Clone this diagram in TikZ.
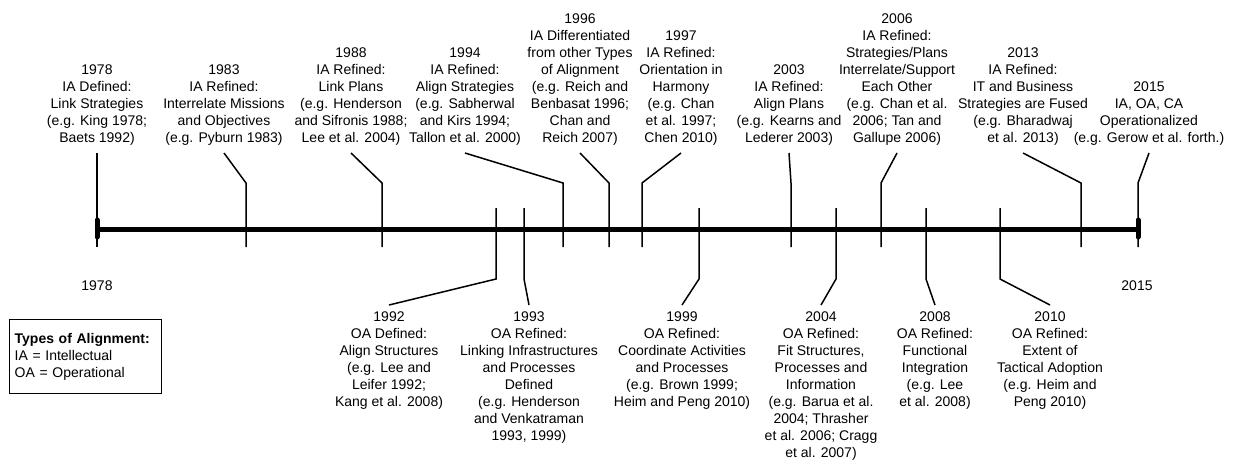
\documentclass[tikz,border=0pt]{standalone}
\usepackage{fontspec}
\setmainfont{Liberation Sans}
\begin{document}
\begin{tikzpicture}[x=1pt,y=-1pt,
  lab/.style={font=\fontsize{14}{17}\selectfont, align=center, inner xsep=0pt},
  ia/.style={lab, anchor=south, inner ysep=7pt},
  oa/.style={lab, anchor=north, inner ysep=7pt},
  tick/.style={line width=1.5pt, line cap=butt},
  axisline/.style={line width=5pt},
  endcap/.style={line width=5pt, line cap=round},
  legendbox/.style={draw, line width=1.3pt, anchor=north west, text width=142pt,
    minimum height=74pt, inner xsep=5pt, inner ysep=0pt, align=left,
    font=\fontsize{14}{17}\selectfont}]
\useasboundingbox (0,0) rectangle (1233,464);
\fill[white] (0,0) rectangle (1233,464);

% axis
\coordinate (a0) at (97,229);
\coordinate (a1) at (1138,229);
\draw[axisline] (a0) -- (a1);
\coordinate (c0t) at (97,220); \coordinate (c0b) at (97,237);
\coordinate (c1t) at (1138,220); \coordinate (c1b) at (1138,237);
\draw[endcap] (c0t) -- (c0b);
\draw[endcap] (c1t) -- (c1b);

% ---------- IA (top) ----------
\node[ia] (i1978) at (97,153) {1978\\IA Defined:\\Link Strategies\\(e.g. King 1978;\\Baets 1992)};
\coordinate (b1978) at (97,247);
\draw[tick] (i1978.south) -- (b1978);

\node[ia] (i1983) at (224,153) {1983\\IA Refined:\\Interrelate Missions\\and Objectives\\(e.g. Pyburn 1983)};
\coordinate (e1983) at (246,183); \coordinate (b1983) at (246,247);
\draw[tick] (i1983.south) -- (e1983) -- (b1983);

\node[ia] (i1988) at (351,153) {1988\\IA Refined:\\Link Plans\\(e.g. Henderson\\and Sifronis 1988;\\Lee et al. 2004)};
\coordinate (e1988) at (382,183); \coordinate (b1988) at (382,247);
\draw[tick] (i1988.south) -- (e1988) -- (b1988);

\node[ia] (i1994) at (465,153) {1994\\IA Refined:\\Align Strategies\\(e.g. Sabherwal\\and Kirs 1994;\\Tallon et al. 2000)};
\coordinate (e1994) at (563,183); \coordinate (b1994) at (563,247);
\draw[tick] (i1994.south) -- (e1994) -- (b1994);

\node[ia] (i1996) at (580,153) {1996\\IA Differentiated\\from other Types\\of Alignment\\(e.g. Reich and\\Benbasat 1996;\\Chan and\\Reich 2007)};
\coordinate (e1996) at (609,183); \coordinate (b1996) at (609,247);
\draw[tick] (i1996.south) -- (e1996) -- (b1996);

\node[ia] (i1997) at (681,153) {1997\\IA Refined:\\Orientation in\\Harmony\\(e.g. Chan\\et al. 1997;\\Chen 2010)};
\coordinate (e1997) at (642,183); \coordinate (b1997) at (642,247);
\draw[tick] (i1997.south) -- (e1997) -- (b1997);

\node[ia] (i2003) at (789,153) {2003\\IA Refined:\\Align Plans\\(e.g. Kearns and\\Lederer 2003)};
\coordinate (e2003) at (791,183); \coordinate (b2003) at (791,247);
\draw[tick] (i2003.south) -- (e2003) -- (b2003);

\node[ia] (i2006) at (897,153) {2006\\IA Refined:\\Strategies/Plans\\Interrelate/Support\\Each Other\\(e.g. Chan et al.\\2006; Tan and\\Gallupe 2006)};
\coordinate (e2006) at (881,183); \coordinate (b2006) at (881,247);
\draw[tick] (i2006.south) -- (e2006) -- (b2006);

\node[ia] (i2013) at (1023,153) {2013\\IA Refined:\\IT and Business\\Strategies are Fused\\(e.g. Bharadwaj\\et al. 2013)};
\coordinate (e2013) at (1081,183); \coordinate (b2013) at (1081,247);
\draw[tick] (i2013.south) -- (e2013) -- (b2013);

\node[ia] (i2015) at (1149,153) {2015\\IA, OA, CA\\Operationalized\\(e.g. Gerow et al. forth.)};
\coordinate (e2015) at (1138,183); \coordinate (b2015) at (1138,247);
\draw[tick] (i2015.south) -- (e2015) -- (b2015);

% ---------- OA (bottom) ----------
\node[oa] (o1992) at (389,305) {1992\\OA Defined:\\Align Structures\\(e.g. Lee and\\Leifer 1992;\\Kang et al. 2008)};
\coordinate (u1992) at (496,208); \coordinate (k1992) at (496,279);
\draw[tick] (u1992) -- (k1992) -- (o1992.north);

\node[oa] (o1993) at (529,305) {1993\\OA Refined:\\Linking Infrastructures\\and Processes\\Defined\\(e.g. Henderson\\and Venkatraman\\1993, 1999)};
\coordinate (u1993) at (524,208); \coordinate (k1993) at (524,279);
\draw[tick] (u1993) -- (k1993) -- (o1993.north);

\node[oa] (o1999) at (682,305) {1999\\OA Refined:\\Coordinate Activities\\and Processes\\(e.g. Brown 1999;\\Heim and Peng 2010)};
\coordinate (u1999) at (699,208); \coordinate (k1999) at (699,279);
\draw[tick] (u1999) -- (k1999) -- (o1999.north);

\node[oa] (o2004) at (821,305) {2004\\OA Refined:\\Fit Structures,\\Processes and\\Information\\(e.g. Barua et al.\\2004; Thrasher\\et al. 2006; Cragg\\et al. 2007)};
\coordinate (u2004) at (836,208); \coordinate (k2004) at (836,279);
\draw[tick] (u2004) -- (k2004) -- (o2004.north);

\node[oa] (o2008) at (935,305) {2008\\OA Refined:\\Functional\\Integration\\(e.g. Lee\\et al. 2008)};
\coordinate (u2008) at (926,208); \coordinate (k2008) at (926,279);
\draw[tick] (u2008) -- (k2008) -- (o2008.north);

\node[oa] (o2010) at (1050,305) {2010\\OA Refined:\\Extent of\\Tactical Adoption\\(e.g. Heim and\\Peng 2010)};
\coordinate (u2010) at (1000,208); \coordinate (k2010) at (1000,279);
\draw[tick] (u2010) -- (k2010) -- (o2010.north);

% end years
\node[lab, anchor=base] (y1978) at (97,290) {1978};
\node[lab, anchor=base] (y2015) at (1137,290) {2015};

% legend
\node[legendbox] (legend) at (9,319) {\textbf{Types of Alignment:}\\IA = Intellectual\\OA = Operational};
\end{tikzpicture}
\end{document}
